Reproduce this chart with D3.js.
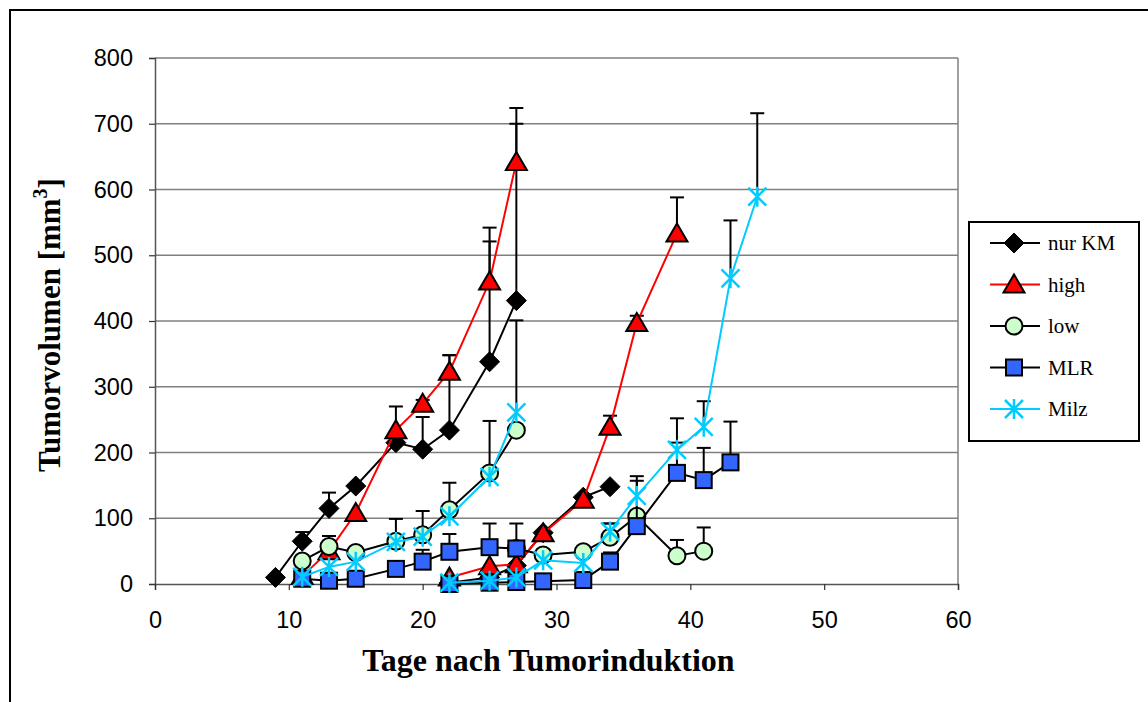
<!DOCTYPE html>
<html><head><meta charset="utf-8">
<script src="https://cdn.jsdelivr.net/npm/d3@7"></script>
<style>body{margin:0;background:#fff}svg{display:block}</style>
</head><body>
<svg id="c" width="1148" height="702"></svg>
<script>
// ---- data (null = break between the two experiments) ----
const xTicks = [0,10,20,30,40,50,60];
const yTicks = [0,100,200,300,400,500,600,700,800];

const kmDays = [9,11,13,15,18,20,22,25,27,null,22,25,27,29,32,34];
const kmVals = [10,65,115,149,215,205,234,338,431,null,2,10,28,78,132,148];
const kmErr  = [0,14,24,0,0,49,114,183,269,null,0,0,0,0,0,0];

const highDays = [11,13,15,18,20,22,25,27,null,22,25,27,29,32,34,36,39];
const highVals = [12,50,108,234,274,323,460,642,null,10,27,30,77,128,239,397,533];
const highErr  = [0,0,0,36,6,25,82,82,null,0,0,0,0,0,17,11,55];

const lowDays = [11,13,15,18,20,22,25,27,null,27,29,32,34,36,39,41];
const lowVals = [35,57,48,65,75,113,169,234,null,54,44,49,71,103,43,50];
const lowErr  = [0,16,0,34,36,41,79,0,null,0,0,0,21,0,24,36];

const mlrDays = [11,13,15,18,20,22,25,27,null,22,25,27,29,32,34,36,39,41,43];
const mlrVals = [8,5,8,23,34,49,56,54,null,0,2,3,4,6,34,88,169,158,185];
const mlrErr  = [0,0,0,0,18,27,36,38,null,0,0,0,0,0,14,69,46,49,62];

const milzDays = [11,13,15,18,20,22,25,27,null,22,25,27,29,32,34,36,39,41,43,45];
const milzVals = [11,26,34,64,72,103,163,261,null,2,5,10,36,32,80,134,204,239,465,589];
const milzErr  = [0,0,0,0,0,0,0,140,null,0,0,0,0,0,12,30,48,39,88,127];

const seriesNames = ["nur KM","high","low","MLR","Milz"];
const lineColors = ["#000000","#ff0000","#000000","#000000","#00ccff"];
const fillColors = ["#000000","#ff0000","#ccffcc","#3366ff","#00ccff"];
const markerTypes = ["diamond","triangle","circle","square","star"];

const series = [
  {days:kmDays, vals:kmVals, err:kmErr},
  {days:highDays, vals:highVals, err:highErr},
  {days:lowDays, vals:lowVals, err:lowErr},
  {days:mlrDays, vals:mlrVals, err:mlrErr},
  {days:milzDays, vals:milzVals, err:milzErr}
].map((s,i)=>({name:seriesNames[i], line:lineColors[i], fill:fillColors[i], marker:markerTypes[i],
  pts:s.days.map((d,j)=>d===null?null:{x:d,y:s.vals[j],e:s.err[j]})}));

// ---- layout ----
const svg = d3.select("#c");
const L=155, R=958, T=58, B=584;
const x = d3.scaleLinear().domain([0,60]).range([L,R]);
const y = d3.scaleLinear().domain([0,800]).range([B,T]);

svg.append("rect").attr("x",10).attr("y",10).attr("width",1150).attr("height",710)
  .attr("fill","none").attr("stroke","#000").attr("stroke-width",2);

// gridlines
svg.append("g").selectAll("line").data(yTicks.filter(v=>v>0)).join("line")
  .attr("x1",L).attr("x2",R).attr("y1",d=>y(d)).attr("y2",d=>y(d))
  .attr("stroke","#808080").attr("stroke-width",1.5);
svg.append("line").attr("x1",R).attr("x2",R).attr("y1",T).attr("y2",B)
  .attr("stroke","#808080").attr("stroke-width",1.5);

// axes
const yAxis = svg.append("g").attr("transform",`translate(${L},0)`)
  .call(d3.axisLeft(y).tickValues(yTicks).tickSize(6).tickPadding(16).tickFormat(d3.format("d")));
const xAxis = svg.append("g").attr("transform",`translate(0,${B})`)
  .call(d3.axisBottom(x).tickValues(xTicks).tickSize(6).tickPadding(21).tickFormat(d3.format("d")));
[yAxis,xAxis].forEach(a=>{
  a.select(".domain").attr("stroke","#555").attr("stroke-width",1.5);
  a.selectAll(".tick line").attr("stroke","#333").attr("stroke-width",1.2);
  a.selectAll("text").attr("font-family","Liberation Sans, Arial, sans-serif").attr("font-size",23.5).attr("fill","#000");
});

// axis titles
svg.append("text").attr("x",(L+R)/2-8).attr("y",671).attr("text-anchor","middle")
  .attr("font-family","Liberation Serif, Times New Roman, serif").attr("font-weight","bold").attr("font-size",32)
  .text("Tage nach Tumorinduktion");
const yt = svg.append("text").attr("transform",`translate(60,${(T+B)/2+4}) rotate(-90)`).attr("text-anchor","middle")
  .attr("font-family","Liberation Serif, Times New Roman, serif").attr("font-weight","bold").attr("font-size",31);
yt.append("tspan").text("Tumorvolumen [mm");
yt.append("tspan").attr("font-size",20).attr("dy",-13).text("3");
yt.append("tspan").attr("dy",13).text("]");

// marker drawing
function drawMarker(g, type, cx, cy, fill, stroke){
  if(type==="diamond"){
    g.append("path").attr("d",`M${cx},${cy-10}L${cx+10},${cy}L${cx},${cy+10}L${cx-10},${cy}Z`)
      .attr("fill","#000").attr("stroke","#000").attr("stroke-width",1);
  } else if(type==="triangle"){
    g.append("path").attr("d",`M${cx},${cy-10}L${cx+10.5},${cy+8}L${cx-10.5},${cy+8}Z`)
      .attr("fill",fill).attr("stroke","#000").attr("stroke-width",2).attr("stroke-linejoin","miter");
  } else if(type==="circle"){
    g.append("circle").attr("cx",cx).attr("cy",cy).attr("r",8.5)
      .attr("fill",fill).attr("stroke","#000").attr("stroke-width",2);
  } else if(type==="square"){
    g.append("rect").attr("x",cx-8).attr("y",cy-8).attr("width",16).attr("height",16)
      .attr("fill",fill).attr("stroke","#000").attr("stroke-width",2);
  } else if(type==="star"){
    const r=9;
    g.append("path").attr("d",`M${cx-r},${cy-r}L${cx+r},${cy+r}M${cx-r},${cy+r}L${cx+r},${cy-r}M${cx},${cy-r-1}L${cx},${cy+r+1}`)
      .attr("stroke",stroke).attr("stroke-width",2.5).attr("fill","none");
  }
}

const line = d3.line().defined(d=>d!==null).x(d=>x(d.x)).y(d=>y(d.y));

series.forEach(s=>{
  const g = svg.append("g");
  const pts = s.pts.filter(p=>p!==null);
  // error bars (upper)
  pts.filter(p=>p.e>0).forEach(p=>{
    g.append("line").attr("x1",x(p.x)).attr("x2",x(p.x)).attr("y1",y(p.y)).attr("y2",y(p.y+p.e))
      .attr("stroke","#000").attr("stroke-width",2);
    g.append("line").attr("x1",x(p.x)-7).attr("x2",x(p.x)+7).attr("y1",y(p.y+p.e)).attr("y2",y(p.y+p.e))
      .attr("stroke","#000").attr("stroke-width",2);
  });
  g.append("path").datum(s.pts).attr("d",line).attr("fill","none")
    .attr("stroke",s.line).attr("stroke-width",2);
  pts.forEach(p=>drawMarker(g,s.marker,x(p.x),y(p.y),s.fill,s.line));
});

// legend
const lg = svg.append("g");
lg.append("rect").attr("x",969).attr("y",222).attr("width",170).attr("height",219)
  .attr("fill","#fff").attr("stroke","#000").attr("stroke-width",2);
series.forEach((s,i)=>{
  const ly = 243 + i*41.5;
  lg.append("line").attr("x1",990).attr("x2",1040).attr("y1",ly).attr("y2",ly)
    .attr("stroke",s.line).attr("stroke-width",2);
  drawMarker(lg,s.marker,1014,ly,s.fill,s.line);
  lg.append("text").attr("x",1048).attr("y",ly+7).attr("font-family","Liberation Serif, Times New Roman, serif")
    .attr("font-size",21).attr("fill","#000").text(s.name);
});
</script>
</body></html>
